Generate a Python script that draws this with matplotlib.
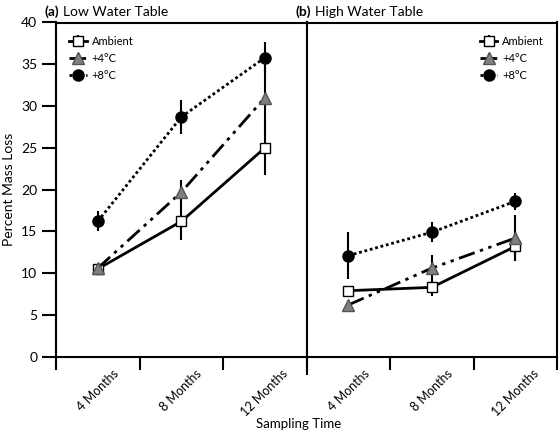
import numpy as np
import matplotlib as mpl
mpl.use("Agg")
import matplotlib.pyplot as plt
from matplotlib.transforms import ScaledTranslation

plt.rcParams["font.family"] = ["Lato", "DejaVu Sans"]

months = ["4 Months", "8 Months", "12 Months"]
treatments = ["Ambient", "+4°C", "+8°C"]

# (a) low water table
low_mean = {
    "Ambient": [10.5, 16.2, 25.0],
    "+4°C": [10.6, 19.7, 31.0],
    "+8°C": [16.2, 28.7, 35.8],
}
low_err = {
    "Ambient": [0.4, 2.2, 3.2],
    "+4°C": [0.5, 1.4, 4.5],
    "+8°C": [1.2, 2.0, 1.9],
}

# (b) high water table
high_mean = {
    "Ambient": [7.9, 8.3, 13.2],
    "+4°C": [6.2, 10.6, 14.2],
    "+8°C": [12.1, 14.9, 18.6],
}
high_err = {
    "Ambient": [0.5, 1.0, 1.6],
    "+4°C": [0.3, 1.6, 2.8],
    "+8°C": [2.8, 1.2, 1.0],
}

styles = {
    "Ambient": dict(linestyle="-", marker="s", mfc="white", mec="black", ms=7),
    "+4°C": dict(linestyle=(0, (6, 2, 1.2, 2, 1.2, 2)), marker="^", mfc="#7f7f7f", mec="#555555", ms=8),
    "+8°C": dict(linestyle=(0, (1, 1)), marker="o", mfc="black", mec="black", ms=8),
}


def draw_panel(ax, means, errs, tag, title, legend_loc):
    x = np.arange(len(months))
    for name in treatments:
        ax.errorbar(x, means[name], yerr=errs[name], color="black", lw=2,
                    elinewidth=1.5, capsize=0, label=name, **styles[name])
    ax.set_xlim(-0.5, 2.5)
    ax.set_xticks([-0.5, 0.5, 1.5, 2.5])
    ax.set_xticklabels([])
    ax.set_xticks(x, minor=True)
    labels = ax.set_xticklabels(months, minor=True, rotation=45, ha="center",
                                va="top", fontsize=9)
    shift = ScaledTranslation(-7 / 100, 0, fig.dpi_scale_trans)
    for lab in labels:
        lab.set_transform(lab.get_transform() + shift)
    ax.tick_params(axis="x", which="major", direction="out", length=9, width=1.5)
    ax.tick_params(axis="x", which="minor", length=0, pad=8)
    for s in ax.spines.values():
        s.set_linewidth(1.5)
    t1 = ax.annotate(tag, xy=(0, 1), xycoords="axes fraction", xytext=(-8, 3),
                     textcoords="offset points", fontsize=10, fontweight="bold",
                     va="bottom", ha="left")
    ax.annotate(title, xy=(1, 0), xycoords=t1, xytext=(2.5, 0),
                textcoords="offset points", fontsize=10, va="bottom", ha="left")
    ax.legend(loc=legend_loc, frameon=False, fontsize=8,
              handlelength=1.6, handletextpad=0.4, labelspacing=0.55,
              borderaxespad=0.8)


fig = plt.figure(figsize=(5.59, 4.33), dpi=100)
axl = fig.add_axes([56 / 559, 1 - 356.7 / 433, (306.7 - 56) / 559, (356.7 - 22.5) / 433])
axr = fig.add_axes([306.7 / 559, 1 - 356.7 / 433, (557 - 306.7) / 559, (356.7 - 22.5) / 433], sharey=axl)

draw_panel(axl, low_mean, low_err, "(a)", "Low Water Table", "upper left")
draw_panel(axr, high_mean, high_err, "(b)", "High Water Table", "upper right")

axl.set_ylim(0, 40)
axl.set_yticks(range(0, 41, 5))
axl.tick_params(axis="y", direction="out", length=10, width=1.5, labelsize=10)
axr.tick_params(axis="y", left=False, labelleft=False)
axl.set_ylabel("Percent Mass Loss", fontsize=10, labelpad=4)

# longer tick at the panel divider
axr.xaxis.get_major_ticks()[0].tick1line.set_markersize(13)

fig.text(299 / 559, 1 - 424 / 433, "Sampling Time", ha="center", va="center", fontsize=9.5)

fig.savefig("out.png", dpi=100)
